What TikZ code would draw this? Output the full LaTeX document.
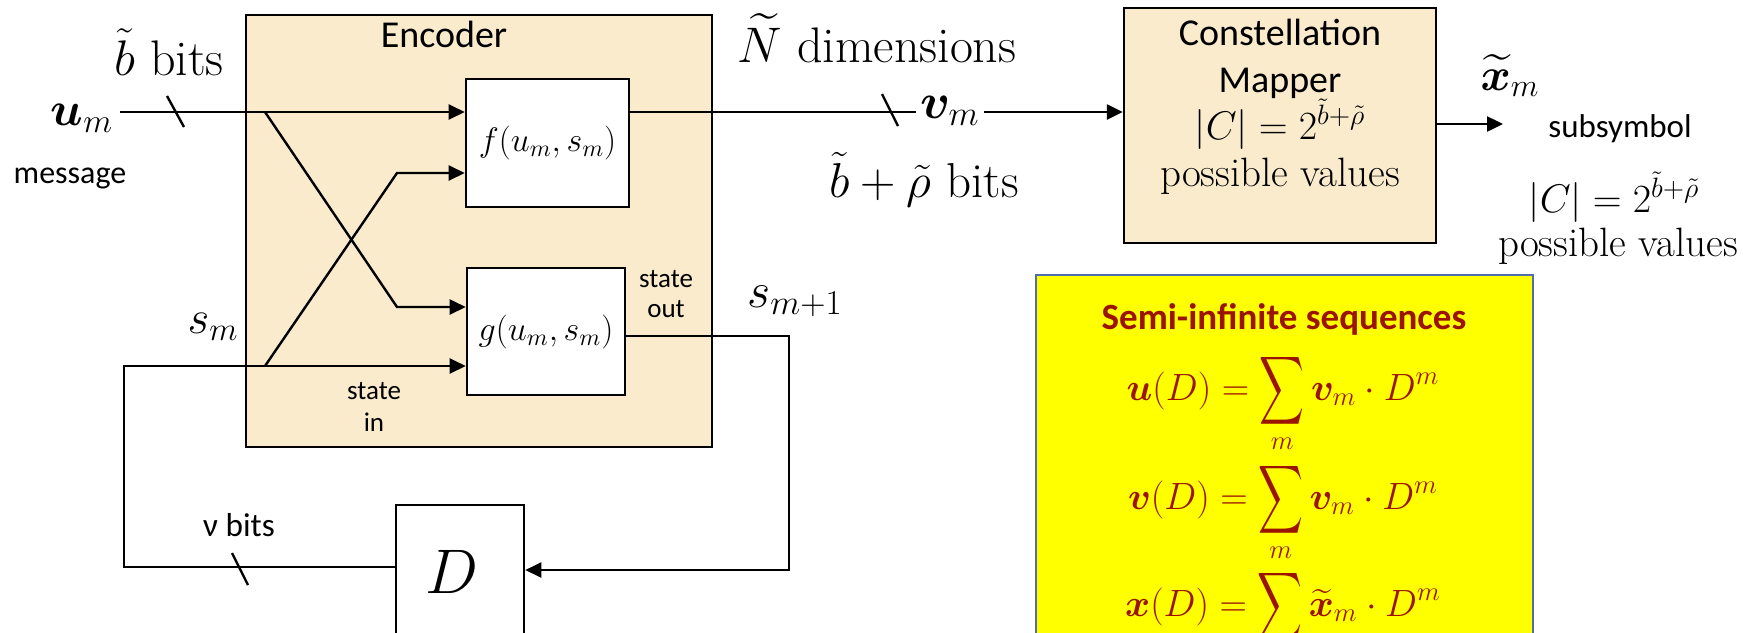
\RequirePackage{fix-cm}
\documentclass[tikz,border=0pt]{standalone}
\usepackage{amsmath,bm}
\usepackage{fontspec}
\setsansfont{Carlito}
\usetikzlibrary{arrows.meta}
\definecolor{enctan}{RGB}{250,235,205}
\definecolor{ybord}{RGB}{79,110,175}
\definecolor{ybg}{RGB}{255,255,0}
\definecolor{dred}{RGB}{155,20,0}
\newcommand\tallsum{\mathop{\vcenter{\hbox{\scalebox{0.9}[1.38]{$\displaystyle\sum$}}}}\limits}
\tikzset{
  lw/.style={line width=1.2pt},
  arr/.style={lw, -{Triangle[length=8pt,width=7.5pt]}},
  wbox/.style={draw, line width=1.3pt, fill=white, inner sep=0pt},
  tanbox/.style={draw, line width=1.2pt, fill=enctan, inner sep=0pt},
  lab/.style={inner sep=0pt, anchor=base},
}
\begin{document}
\begin{tikzpicture}[x=0.5pt,y=-0.5pt]
\useasboundingbox (0,0) rectangle (1743,632);
\clip (0,0) rectangle (1743,632);

% big boxes
\node[tanbox, minimum width=233pt, minimum height=216pt] (enc) at (479,231) {};
\node[tanbox, minimum width=156pt, minimum height=117.5pt] (mapper) at (1280,125.5) {};
\node[draw=ybord, line width=1pt, fill=ybg, inner sep=0pt,
      minimum width=248.5pt, minimum height=222.5pt] (seq) at (1284.5,497.5) {};

% inner boxes
\node[wbox, minimum width=81.5pt, minimum height=64pt] (f) at (547.5,143)
  {\fontsize{17}{20}\selectfont $f(u_m,s_m)$};
\node[wbox, minimum width=79pt, minimum height=63.5pt] (g) at (546,331.5)
  {\fontsize{17}{20}\selectfont $g(u_m,s_m)$};
\node[wbox, minimum width=64pt, minimum height=77.5pt] (D) at (460,582.5) {};
\node[lab] (Dlab) at (452,593) {\fontsize{31.5}{36}\selectfont $D$};

% labels
\node[lab] (enclab) at (444,47) {\sffamily\fontsize{19}{23}\selectfont Encoder};
\node[lab] (um) at (82,125) {\fontsize{24}{28}\selectfont $\boldsymbol{u}_m$};
\node[lab] (msg) at (70,183) {\sffamily\fontsize{16}{19}\selectfont message};
\node[lab] (bbits) at (169,75) {\fontsize{25}{29}\selectfont $\tilde{b}$ bits};
\node[anchor=base, inner sep=2pt] (vm) at (950,118) {\fontsize{25}{29}\selectfont $\boldsymbol{v}_m$};
\node[lab] (ndim) at (877,62) {\fontsize{25}{29}\selectfont $\widetilde{N}$ dimensions};
\node[lab] (brbits) at (924,197) {\fontsize{24.5}{29}\selectfont $\tilde{b}+\tilde{\rho}$ bits};
\node[lab] (sm) at (213,333) {\fontsize{23.5}{27}\selectfont $s_m$};
\node[lab] (smp) at (795,307) {\fontsize{25}{29}\selectfont $s_{m+1}$};
\node[lab] (so1) at (666,287) {\sffamily\fontsize{13.5}{16}\selectfont state};
\node[lab] (so2) at (666,317) {\sffamily\fontsize{13.5}{16}\selectfont out};
\node[lab] (si1) at (374,399) {\sffamily\fontsize{13.5}{16}\selectfont state};
\node[lab] (si2) at (374,431) {\sffamily\fontsize{13.5}{16}\selectfont in};
\node[lab] (nub) at (239,536) {\sffamily\fontsize{16.6}{19}\selectfont ν bits};

% mapper text
\node[lab] (mt1) at (1280,45) {\sffamily\fontsize{19}{23}\selectfont Constellation};
\node[lab] (mt2) at (1280,92) {\sffamily\fontsize{19}{23}\selectfont Mapper};
\node[lab] (mt3) at (1280,139) {\fontsize{20}{24}\selectfont $|C| = 2^{\tilde{b}+\tilde{\rho}}$};
\node[lab] (mt4) at (1280,186) {\fontsize{20.5}{24}\selectfont possible values};

% right side labels
\node[lab] (xm) at (1510,90) {\fontsize{23}{27}\selectfont $\widetilde{\boldsymbol{x}}_m$};
\node[lab] (subs) at (1620,137) {\sffamily\fontsize{16.5}{19}\selectfont subsymbol};
\node[lab] (cr) at (1614,212) {\fontsize{20}{24}\selectfont $|C| = 2^{\tilde{b}+\tilde{\rho}}$};
\node[lab] (pvr) at (1618,256) {\fontsize{20.5}{24}\selectfont possible values};

% yellow box text
\node[lab, text=dred] (st) at (1284,329) {\sffamily\bfseries\fontsize{18.5}{22}\selectfont Semi-infinite sequences};
\node[lab, text=dred] (e1) at (1283,400) {\fontsize{19}{22}\selectfont $\displaystyle \boldsymbol{u}(D) = \tallsum_m \boldsymbol{v}_m \cdot D^m$};
\node[lab, text=dred] (e2) at (1283,509) {\fontsize{19}{22}\selectfont $\displaystyle \boldsymbol{v}(D) = \tallsum_m \boldsymbol{v}_m \cdot D^m$};
\node[lab, text=dred] (e3) at (1283,616) {\fontsize{19}{22}\selectfont $\displaystyle \boldsymbol{x}(D) = \tallsum_m \widetilde{\boldsymbol{x}}_m \cdot D^m$};

% coordinates
\coordinate (uin) at (120,112);
\coordinate (ub) at (265,112);
\coordinate (uc) at (397,307);
\coordinate (sb) at (265,366);
\coordinate (sc) at (397,173);
\coordinate (fb1) at (124,366);
\coordinate (fb2) at (124,567);
\coordinate (go1) at (789,336);
\coordinate (go2) at (789,570);
\coordinate (xout) at (1503,124);

% connectors
\draw[arr] (uin) -- (f.west |- uin);
\draw[arr] (ub) -- (uc) -- (g.west |- uc);
\draw[arr] (D.west |- fb2) -- (fb2) -- (fb1) -- (g.west |- fb1);
\draw[arr] (sb) -- (sc) -- (f.west |- sc);
\draw[arr] (g.east |- go1) -- (go1) -- (go2) -- (D.east |- go2);
\draw[lw] (f.east |- uin) -- (vm.west |- uin);
\draw[arr] (vm.east |- uin) -- (mapper.west |- uin);
\draw[arr] (mapper.east |- xout) -- (xout);

% bus slashes
\draw[lw] (167,96) -- (184,127);
\draw[lw] (882,94) -- (898,126);
\draw[lw] (232,553) -- (248,585);
\end{tikzpicture}
\end{document}
